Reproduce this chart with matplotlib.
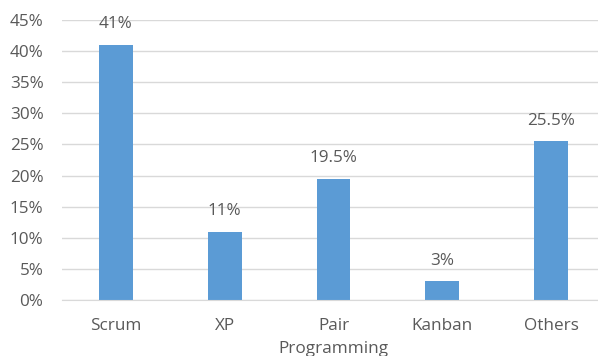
import matplotlib
matplotlib.use("Agg")
import matplotlib.pyplot as plt

# data
categories = ["Scrum", "XP", "Pair\nProgramming", "Kanban", "Others"]
shares = [0.41, 0.11, 0.195, 0.03, 0.255]
value_labels = ["41%", "11%", "19.5%", "3%", "25.5%"]
yticks = [0, 0.05, 0.10, 0.15, 0.20, 0.25, 0.30, 0.35, 0.40, 0.45]

plt.rcParams["font.family"] = ["Open Sans", "DejaVu Sans"]
text_col = "#595959"
grid_col = "#D9D9D9"
fs = 12.3

W, H = 598, 356
fig = plt.figure(figsize=(W / 100, H / 100), dpi=100)
left, right = 61.5, 605.5
top, bottom = 20, 300
ax = fig.add_axes([left / W, (H - bottom) / H, (right - left) / W, (bottom - top) / H])

x = list(range(len(categories)))
ax.bar(x, shares, width=0.31, color="#5B9BD5", zorder=3)
ax.set_xlim(-0.5, len(categories) - 0.5)
ax.set_ylim(0, 0.45)

ax.set_yticks(yticks)
ax.set_yticklabels([f"{int(round(v * 100))}%" for v in yticks])
ax.set_xticks(x)
ax.set_xticklabels(categories, linespacing=1.55)
ax.tick_params(axis="both", length=0, colors=text_col, labelsize=fs)
ax.tick_params(axis="y", pad=13)
ax.tick_params(axis="x", pad=13)

ax.grid(axis="y", color=grid_col, linewidth=1, zorder=0)
for s in ["top", "right", "left"]:
    ax.spines[s].set_visible(False)
ax.spines["bottom"].set_color(grid_col)
ax.spines["bottom"].set_zorder(4)

for xi, v, lab in zip(x, shares, value_labels):
    ax.annotate(lab, (xi, v), xytext=(0, 9), textcoords="offset points",
                ha="center", va="bottom", color=text_col, fontsize=fs)

fig.savefig("out.png", dpi=100)
